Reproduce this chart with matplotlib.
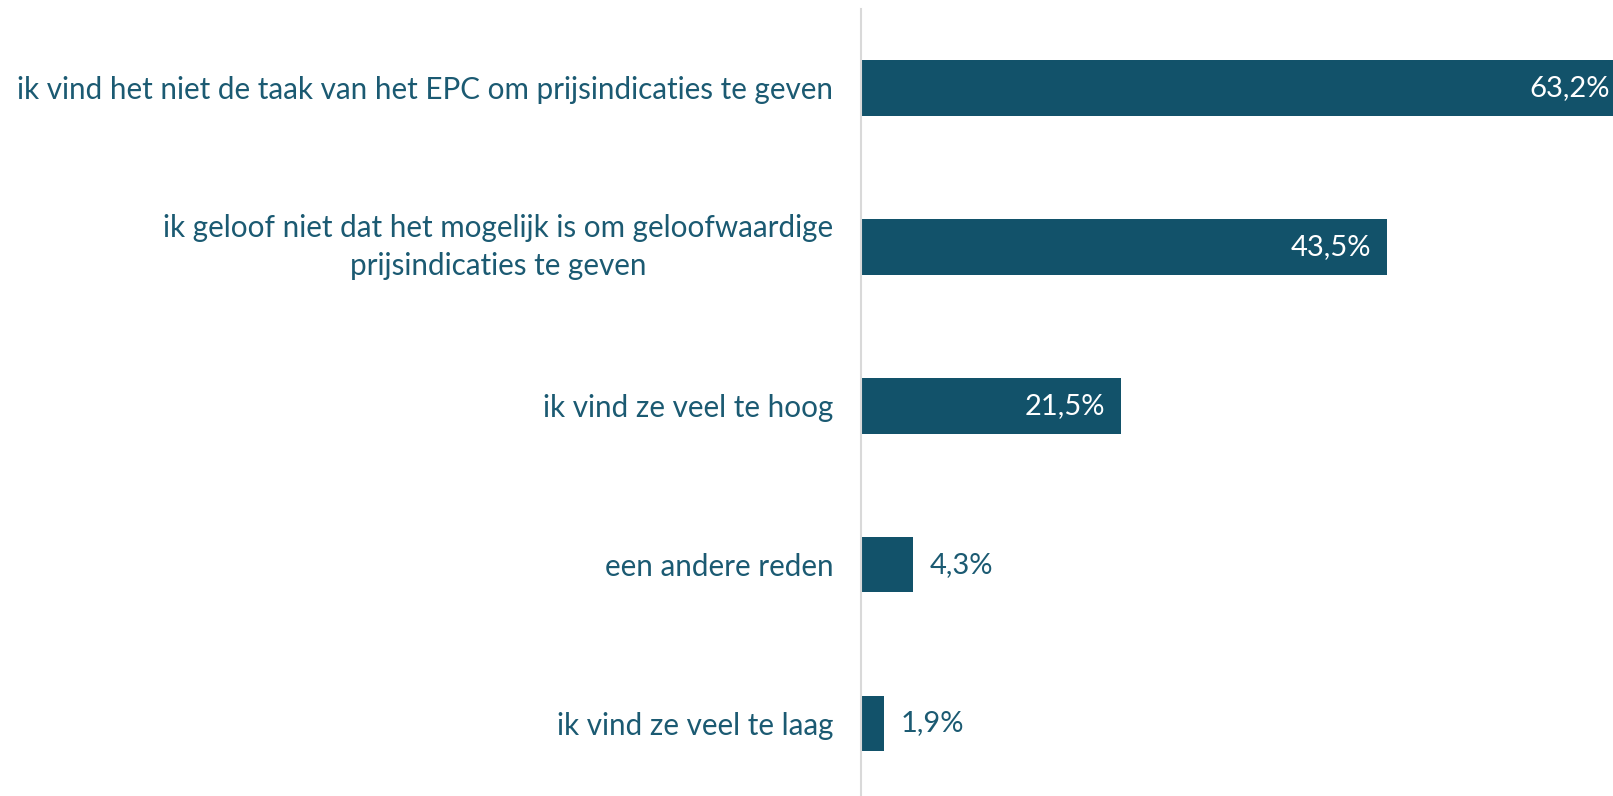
import matplotlib
matplotlib.use('Agg')
import matplotlib.pyplot as plt

categories = [
    'ik vind het niet de taak van het EPC om prijsindicaties te geven',
    'ik geloof niet dat het mogelijk is om geloofwaardige\nprijsindicaties te geven',
    'ik vind ze veel te hoog',
    'een andere reden',
    'ik vind ze veel te laag',
]
values = [63.2, 43.5, 21.5, 4.3, 1.9]
value_labels = ['63,2%', '43,5%', '21,5%', '4,3%', '1,9%']

bar_color = '#12526a'
text_color = '#1b5a72'

plt.rcParams['font.family'] = ['Lato', 'DejaVu Sans']

fig = plt.figure(figsize=(16.13, 7.96), dpi=100)
ax = fig.add_axes([861 / 1613, 0.0, 786.5 / 1613, 787 / 796])

ypos = list(range(len(values)))
ax.barh(ypos, values, height=0.35, color=bar_color)
ax.set_xlim(0, 65)
ax.set_ylim(4.456, -0.497)

for y, v, lab in zip(ypos, values, value_labels):
    if v > 10:
        ax.annotate(lab, (v, y), xytext=(-16, 0), textcoords='offset pixels',
                    ha='right', va='center', color='white', fontsize=21)
    else:
        ax.annotate(lab, (v, y), xytext=(17, 0), textcoords='offset pixels',
                    ha='left', va='center', color=text_color, fontsize=21)

ax.set_yticks(ypos)
ax.set_yticklabels(categories, fontsize=21.3, color=text_color,
                   multialignment='center', linespacing=1.45)
# the two-line label sits a bit higher, centred on the bar
for t in ax.get_yticklabels():
    if '\n' in t.get_text():
        t.set_va('center')
ax.tick_params(axis='y', length=0, pad=20)
ax.set_xticks([])
for s in ['top', 'right', 'bottom']:
    ax.spines[s].set_visible(False)
ax.spines['left'].set_color('#d9d9d9')
ax.spines['left'].set_linewidth(1.5)

fig.savefig('out.png', dpi=100)
